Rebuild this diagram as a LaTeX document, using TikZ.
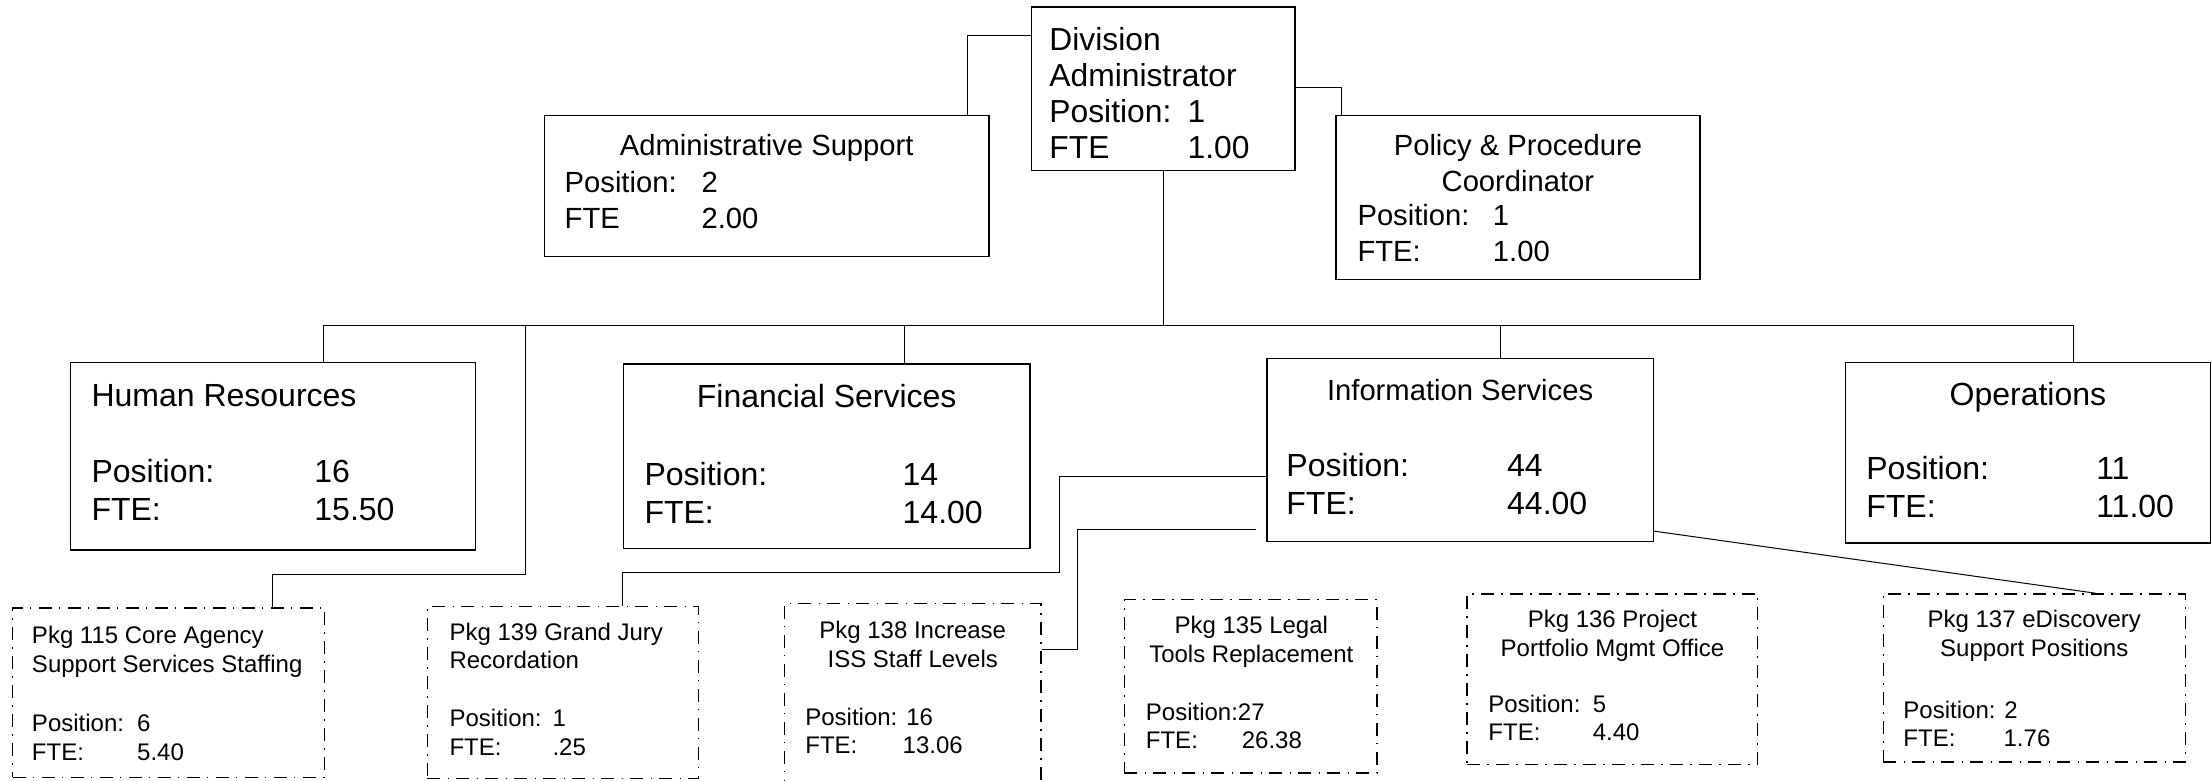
\documentclass[tikz,border=0pt]{standalone}
\usepackage{fontspec}
\setmainfont{Liberation Sans}
\usetikzlibrary{calc,fit}
\newlength\pxu
\setlength\pxu{0.7054pt}
\newcommand\fbig{\fontsize{16}{19}\selectfont}
\newcommand\fmid{\fontsize{14.6}{18}\selectfont}
\newcommand\fdiv{\fontsize{15.9}{18}\selectfont}
\newcommand\fpkg{\fontsize{12}{14.3}\selectfont}
\newcommand\lines[1]{\begin{tabular}[t]{@{}l@{}}#1\end{tabular}}
\newcommand\clines[1]{\begin{tabular}[t]{@{}c@{}}#1\end{tabular}}
\newcommand\fld[2]{\makebox[#1\pxu][l]{#2}}

\begin{document}
\begin{tikzpicture}[x=0.7054pt,y=-0.7054pt,
	unitbox/.style={draw,line width=0.7pt,inner sep=0pt},
	pkgbox/.style={unitbox,dash pattern=on 6.5pt off 3.6pt on 0.8pt off 3.6pt},
	link/.style={line width=0.5pt},
	txt/.style={inner sep=0pt,anchor=base west},
	ctxt/.style={inner sep=0pt,anchor=base}]
\useasboundingbox (0,0) rectangle (1568,553);
% boxes
\node[unitbox,fit={(731,5) (918,121)}] (div) {};
\node[unitbox,fit={(386,82) (701,182)}] (admin) {};
\node[unitbox,fit={(947,82) (1205,198)}] (policy) {};
\node[unitbox,fit={(50,257) (337,390)}] (hr) {};
\node[unitbox,fit={(442,258) (730,389)}] (fin) {};
\node[unitbox,fit={(898,254) (1172,384)}] (info) {};
\node[unitbox,fit={(1308,257) (1567,385)}] (ops) {};
\node[pkgbox,fit={(9,431) (230,551)}] (p115) {};
\node[pkgbox,fit={(303,430) (495,552)}] (p139) {};
\node[pkgbox,fit={(556,428) (738,556)}] (p138) {};
\node[pkgbox,fit={(797,425) (976,548)}] (p135) {};
\node[pkgbox,fit={(1040,421) (1246,542)}] (p136) {};
\node[pkgbox,fit={(1335,421) (1549,540)}] (p137) {};
% texts
\node[txt,font=\fdiv] (divT) at (743.6,36) {\lines{Division\\Administrator\\\fld{98}{Position:}1\\\fld{98}{FTE}1.00}};
\node[ctxt,font=\fmid] (adminT) at (543.5,110.3) {Administrative Support};
\node[txt,font=\fmid] (adminS) at (400,136.3) {\lines{\fld{97}{Position:}2\\\fld{97}{FTE}2.00}};
\node[ctxt,font=\fmid] (policyT) at (1076,110.5) {\clines{Policy \& Procedure\\Coordinator}};
\node[txt,font=\fmid] (policyS) at (962,160) {\lines{\fld{96}{Position:}1\\\fld{96}{FTE:}1.00}};
\node[txt,font=\fbig] (hrT) at (64.6,288.2) {Human Resources};
\node[txt,font=\fbig] (hrS) at (64.6,342.2) {\lines{\fld{158}{Position:}16\\\fld{158}{FTE:}15.50}};
\node[ctxt,font=\fbig] (finT) at (586,289.2) {Financial Services};
\node[txt,font=\fbig] (finS) at (456.6,343.8) {\lines{\fld{183}{Position:}14\\\fld{183}{FTE:}14.00}};
\node[ctxt,font=\fmid] (infoT) at (1035,284) {Information Services};
\node[txt,font=\fbig] (infoS) at (911.6,337.8) {\lines{\fld{156.5}{Position:}44\\\fld{156.5}{FTE:}44.00}};
\node[ctxt,font=\fbig] (opsT) at (1437.5,287.2) {Operations};
\node[txt,font=\fbig] (opsS) at (1322.7,340.2) {\lines{\fld{163}{Position:}11\\\fld{163}{FTE:}11.00}};
\node[txt,font=\fpkg] (p115T) at (22.4,456.1) {\lines{Pkg 115 Core Agency\\Support Services Staffing}};
\node[txt,font=\fpkg] (p115S) at (22.4,518.8) {\lines{\fld{74.6}{Position:}6\\\fld{74.6}{FTE:}5.40}};
\node[txt,font=\fpkg] (p139T) at (318.4,453.9) {\lines{Pkg 139 Grand Jury\\Recordation}};
\node[txt,font=\fpkg] (p139S) at (318.4,515.1) {\lines{\fld{73}{Position:}1\\\fld{73}{FTE:}.25}};
\node[ctxt,font=\fpkg] (p138T) at (647,452.7) {\clines{Pkg 138 Increase\\ISS Staff Levels}};
\node[txt,font=\fpkg] (p138S) at (570.6,514.1) {\lines{Position: 16\\\fld{69}{FTE:}13.06}};
\node[ctxt,font=\fpkg] (p135T) at (887,449.1) {\clines{Pkg 135 Legal\\Tools Replacement}};
\node[txt,font=\fpkg] (p135S) at (812,510.6) {\lines{Position:27\\\fld{68}{FTE:}26.38}};
\node[ctxt,font=\fpkg] (p136T) at (1143,445) {\clines{Pkg 136 Project\\Portfolio Mgmt Office}};
\node[txt,font=\fpkg] (p136S) at (1054.8,504.7) {\lines{\fld{74}{Position:}5\\\fld{74}{FTE:}4.40}};
\node[ctxt,font=\fpkg] (p137T) at (1442,445) {\clines{Pkg 137 eDiscovery\\Support Positions}};
\node[txt,font=\fpkg] (p137S) at (1349,509.1) {\lines{Position: 2\\\fld{71}{FTE:}1.76}};
% connectors
\coordinate (bus) at ($(div.south)+(0,109)$);
\coordinate (hrin) at ($(hr.north west)+(180,0)$);
\coordinate (finin) at ($(fin.north west)+(199.5,0)$);
\coordinate (infoin) at ($(info.north west)+(166,0)$);
\coordinate (opsin) at ($(ops.north west)+(162,0)$);
\coordinate (hrlk) at ($(hr.north east)+(35,0)$);
\coordinate (p115in) at ($(p115.north west)+(185,0)$);
\coordinate (p139in) at ($(p139.north west)+(139,0)$);
\draw[link] ($(div.north west)+(0,21)$) -| ($(admin.north west)+(300,0)$);
\draw[link] ($(div.north east)+(0,57.6)$) -| ($(policy.north west)+(4.7,0)$);
\draw[link] (div.south) -- (bus);
\draw[link] (hrin) |- (bus) -| (opsin);
\draw[link] (finin) -- (finin |- bus);
\draw[link] (infoin) -- (infoin |- bus);
\draw[link] (hrlk |- bus) -- ($(hrlk)+(0,151)$) -| (p115in);
\draw[link] ($(info.north west)+(0,84.6)$) -- ++(-146.6,0) -- ++(0,67.4) -| (p139in);
\draw[link] ($(info.south west)+(-7,-9.5)$) -- ++(-127,0) |- ($(p138.north east)+(0,33)$);
\draw[link] ($(p135.north west)+(146,0)$ |- info.south) -- ($(p135.north west)+(146,0)$);
\draw[link] ($(p136.north west)+(63.5,0)$ |- info.south) -- ($(p136.north west)+(63.5,0)$);
\draw[link] ($(info.south east)+(0,-8)$) -- ($(p137.north west)+(151,0)$);
\end{tikzpicture}
\end{document}
